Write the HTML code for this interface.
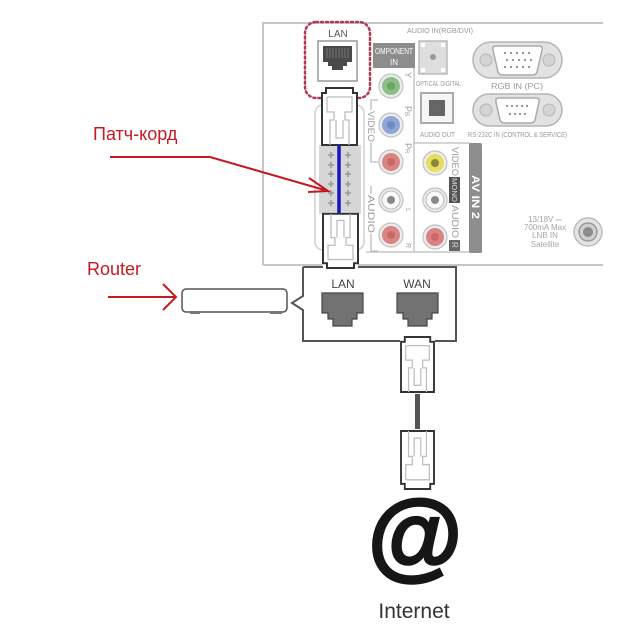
<!DOCTYPE html>
<html><head><meta charset="utf-8"><style>
html,body{margin:0;padding:0;background:#fff;}
svg{display:block;}
text{font-family:"Liberation Sans",Arial,sans-serif;}
</style></head><body>
<svg width="629" height="629" viewBox="0 0 629 629" xmlns="http://www.w3.org/2000/svg">
<defs>
  <g id="plug">
    <path d="M4,0 H31 V5 H35 V57 H0 V5 H4 Z" fill="#fff" stroke="#333" stroke-width="2"/>
    <path d="M5,9 H30 V24 H23 V32 H27 V57 M5,9 V24 H12 V32 H8 V57 M14,32 V50 H21 V32" fill="none" stroke="#bdbdbd" stroke-width="1.3"/>
  </g>
  <g id="cross">
    <path d="M-3,0 H3 M0,-3 V3" stroke="#9a9a9a" stroke-width="1.6"/>
  </g>
</defs>
<rect width="629" height="629" fill="#fff"/>

<!-- TV panel outline -->
<path d="M263,265 V23 H603" fill="none" stroke="#c6c6c6" stroke-width="2"/>
<path d="M263,265 H322 M358,265 H603" fill="none" stroke="#c6c6c6" stroke-width="2"/>

<!-- Component column / AV IN 2 box lines -->
<path d="M414,68 V252 M366,252 H482 M414,143 H470" fill="none" stroke="#c6c6c6" stroke-width="1.5"/>
<!-- brackets -->
<path d="M378,100 H371 V110 M371,143 V162 H378 M371,186 V194 M371,234 V251 H378" fill="none" stroke="#bdbdbd" stroke-width="1.3"/>
<text transform="translate(368,111) rotate(90)" font-size="9" fill="#9a9a9a" textLength="31" lengthAdjust="spacingAndGlyphs">VIDEO</text>
<text transform="translate(368,195) rotate(90)" font-size="9" fill="#9a9a9a" textLength="38" lengthAdjust="spacingAndGlyphs">AUDIO</text>

<!-- Component IN tab -->
<rect x="373" y="43" width="42" height="25" fill="#8d8d8d"/>
<text x="394" y="54" font-size="8" fill="#fff" text-anchor="middle" textLength="38" lengthAdjust="spacingAndGlyphs">OMPONENT</text>
<text x="394" y="65" font-size="8" fill="#fff" text-anchor="middle">IN</text>

<!-- component jacks -->
<g stroke="#c2c2c2" stroke-width="1.2">
  <circle cx="391" cy="86" r="12" fill="#ececec"/>
  <circle cx="391" cy="125" r="12" fill="#ececec"/>
  <circle cx="391" cy="162" r="12" fill="#ececec"/>
  <circle cx="391" cy="200" r="12" fill="#ececec"/>
  <circle cx="391" cy="235" r="12" fill="#ececec"/>
</g>
<circle cx="391" cy="86" r="9" fill="#8cbf88"/><circle cx="391" cy="86" r="4" fill="#6da569"/>
<circle cx="391" cy="125" r="9" fill="#8ea5d8"/><circle cx="391" cy="125" r="4" fill="#7189c0"/>
<circle cx="391" cy="162" r="9" fill="#d98480"/><circle cx="391" cy="162" r="4" fill="#c56a66"/>
<circle cx="391" cy="200" r="9" fill="#fafafa" stroke="#bbb"/><circle cx="391" cy="200" r="4" fill="#8a8a8a"/>
<circle cx="391" cy="235" r="9" fill="#d98480"/><circle cx="391" cy="235" r="4" fill="#c56a66"/>
<g font-size="9" fill="#999">
  <text transform="translate(405,72) rotate(90)">Y</text>
  <text transform="translate(405,106) rotate(90)">P<tspan font-size="6">B</tspan></text>
  <text transform="translate(405,143) rotate(90)">P<tspan font-size="6">R</tspan></text>
  <text transform="translate(406,208) rotate(90)" font-size="7">L</text>
  <text transform="translate(406,243) rotate(90)" font-size="7">R</text>
</g>

<!-- AV IN 2 jacks -->
<g stroke="#c2c2c2" stroke-width="1.2">
  <circle cx="435" cy="163" r="12" fill="#ececec"/>
  <circle cx="435" cy="200" r="12" fill="#ececec"/>
  <circle cx="435" cy="237" r="12" fill="#ececec"/>
</g>
<circle cx="435" cy="163" r="9" fill="#e6df5e"/><circle cx="435" cy="163" r="4" fill="#8a8340"/>
<circle cx="435" cy="200" r="9" fill="#fafafa" stroke="#bbb"/><circle cx="435" cy="200" r="4" fill="#8a8a8a"/>
<circle cx="435" cy="237" r="9" fill="#d98480"/><circle cx="435" cy="237" r="4" fill="#c56a66"/>
<text transform="translate(452,147) rotate(90)" font-size="9" fill="#999" textLength="29" lengthAdjust="spacingAndGlyphs">VIDEO</text>
<rect x="449" y="177" width="11" height="26" fill="#555"/>
<text transform="translate(452,178) rotate(90)" font-size="7" fill="#ddd" textLength="24" lengthAdjust="spacingAndGlyphs">MONO</text>
<text transform="translate(452,205) rotate(90)" font-size="9" fill="#999" textLength="33" lengthAdjust="spacingAndGlyphs">AUDIO</text>
<rect x="449" y="240" width="11" height="11" fill="#666"/>
<text transform="translate(452,242) rotate(90)" font-size="8" fill="#ddd">R</text>

<!-- AV IN 2 tab -->
<rect x="469" y="143" width="13" height="110" rx="2" fill="#8d8d8d"/>
<text transform="translate(472,175) rotate(90)" font-size="11" font-weight="bold" fill="#fff" textLength="44" lengthAdjust="spacingAndGlyphs">AV IN 2</text>

<!-- Optical digital -->
<text x="407" y="33" font-size="7" fill="#9a9a9a" textLength="66" lengthAdjust="spacingAndGlyphs">AUDIO IN(RGB/DVI)</text>
<rect x="419" y="41" width="28" height="33" fill="#dedede" stroke="#bbb" stroke-width="1.5"/>
<rect x="421" y="43" width="4" height="4" fill="#fff"/><rect x="441" y="43" width="4" height="4" fill="#fff"/>
<rect x="421" y="68" width="4" height="4" fill="#fff"/><rect x="441" y="68" width="4" height="4" fill="#fff"/>
<circle cx="433" cy="57" r="3" fill="#9a9a9a"/>
<text x="416" y="86" font-size="7" fill="#9a9a9a" textLength="45" lengthAdjust="spacingAndGlyphs">OPTICAL DIGITAL</text>

<!-- Audio out -->
<rect x="421" y="93" width="32" height="30" fill="#f5f5f5" stroke="#aaa" stroke-width="2"/>
<rect x="429" y="100" width="16" height="16" fill="#666"/>
<text x="420" y="137" font-size="7" fill="#9a9a9a" textLength="35" lengthAdjust="spacingAndGlyphs">AUDIO OUT</text>

<!-- RGB IN (PC) VGA -->
<rect x="473" y="42" width="89" height="36" rx="18" fill="#e2e2e2" stroke="#b5b5b5" stroke-width="1.5"/>
<circle cx="486" cy="60" r="6" fill="#d4d4d4" stroke="#b5b5b5"/>
<circle cx="549" cy="60" r="6" fill="#d4d4d4" stroke="#b5b5b5"/>
<path d="M496,46 H539 Q543,46 542,50 L537,72 Q536,75 532,75 H503 Q499,75 498,72 L493,50 Q492,46 496,46 Z" fill="#fff" stroke="#aaa" stroke-width="1.5"/>
<g fill="#777">
  <circle cx="505" cy="53" r="1"/><circle cx="511" cy="53" r="1"/><circle cx="517" cy="53" r="1"/><circle cx="523" cy="53" r="1"/><circle cx="529" cy="53" r="1"/>
  <circle cx="507" cy="60" r="1"/><circle cx="513" cy="60" r="1"/><circle cx="519" cy="60" r="1"/><circle cx="525" cy="60" r="1"/><circle cx="531" cy="60" r="1"/>
  <circle cx="505" cy="67" r="1"/><circle cx="511" cy="67" r="1"/><circle cx="517" cy="67" r="1"/><circle cx="523" cy="67" r="1"/><circle cx="529" cy="67" r="1"/>
</g>
<text x="517" y="89" font-size="8" fill="#9a9a9a" text-anchor="middle" textLength="52" lengthAdjust="spacingAndGlyphs">RGB IN (PC)</text>

<!-- RS-232C -->
<rect x="473" y="94" width="89" height="32" rx="16" fill="#e2e2e2" stroke="#b5b5b5" stroke-width="1.5"/>
<circle cx="486" cy="110" r="6" fill="#d4d4d4" stroke="#b5b5b5"/>
<circle cx="549" cy="110" r="6" fill="#d4d4d4" stroke="#b5b5b5"/>
<path d="M499,98 H536 Q540,98 539,102 L535,120 Q534,123 530,123 H505 Q501,123 500,120 L496,102 Q495,98 499,98 Z" fill="#fff" stroke="#aaa" stroke-width="1.5"/>
<g fill="#777">
  <circle cx="507" cy="106" r="1"/><circle cx="512" cy="106" r="1"/><circle cx="517" cy="106" r="1"/><circle cx="522" cy="106" r="1"/><circle cx="527" cy="106" r="1"/>
  <circle cx="510" cy="114" r="1"/><circle cx="515" cy="114" r="1"/><circle cx="520" cy="114" r="1"/><circle cx="525" cy="114" r="1"/>
</g>
<text x="468" y="137" font-size="7" fill="#9a9a9a" textLength="99" lengthAdjust="spacingAndGlyphs">RS-232C IN (CONTROL &amp; SERVICE)</text>

<!-- Satellite -->
<g font-size="8" fill="#a5a5a5" text-anchor="middle">
  <text x="545" y="222">13/18V ⎓</text>
  <text x="545" y="230">700mA Max</text>
  <text x="545" y="238">LNB IN</text>
  <text x="545" y="247">Satellite</text>
</g>
<circle cx="588" cy="232" r="14" fill="#e4e4e4" stroke="#bbb" stroke-width="1.5"/>
<circle cx="588" cy="232" r="9" fill="#cfcfcf" stroke="#999" stroke-width="1.5"/>
<circle cx="588" cy="232" r="5" fill="#8a8a8a"/>

<!-- TV LAN port -->
<rect x="305" y="22" width="65" height="76" rx="11" fill="none" stroke="#b33a55" stroke-width="2.5" stroke-dasharray="2,3" stroke-linecap="round"/>
<text x="338" y="37" font-size="10" fill="#555" text-anchor="middle">LAN</text>
<rect x="318" y="41" width="39" height="40" fill="#fff" stroke="#999" stroke-width="1.5"/>
<path d="M323,46 H352 V62 H347 V66 H343 V70 H332 V66 H328 V62 H323 Z" fill="#4a4a4a"/>
<path d="M327,48 V58 M330,48 V58 M333,48 V58 M336,48 V58 M339,48 V58 M342,48 V58 M345,48 V58 M348,48 V58" stroke="#777" stroke-width="1"/>

<!-- cable strip area -->
<rect x="315" y="105" width="49" height="145" rx="8" fill="none" stroke="#cfcfcf" stroke-width="1.5"/>
<rect x="319" y="145" width="42" height="69" fill="#d6d6d6"/>
<g>
  <use href="#cross" x="331" y="155"/><use href="#cross" x="348" y="155"/>
  <use href="#cross" x="331" y="165"/><use href="#cross" x="348" y="165"/>
  <use href="#cross" x="331" y="174"/><use href="#cross" x="348" y="174"/>
  <use href="#cross" x="331" y="184"/><use href="#cross" x="348" y="184"/>
  <use href="#cross" x="331" y="193"/><use href="#cross" x="348" y="193"/>
  <use href="#cross" x="331" y="203"/><use href="#cross" x="348" y="203"/>
</g>

<!-- TV plugs -->
<use href="#plug" transform="translate(322,88)"/>
<line x1="339" y1="147" x2="339" y2="212" stroke="#1418c0" stroke-width="3.5" stroke-linecap="round"/>

<!-- Router box -->
<path d="M303,267 H323 M358,267 H456 V341 H435 M400,341 H303 V310 L292,303 L303,296 V267" fill="none" stroke="#555" stroke-width="2"/>
<use href="#plug" transform="translate(323,268) scale(1,-0.95)"/>
<text x="343" y="288" font-size="12" fill="#444" text-anchor="middle">LAN</text>
<text x="417" y="288" font-size="12" fill="#444" text-anchor="middle">WAN</text>
<path d="M322,293 H363 V313 H357 V319 H352 V326 H333 V319 H328 V313 H322 Z" fill="#727272" stroke="#444" stroke-width="1.2"/>
<path d="M397,293 H438 V313 H432 V319 H427 V326 H408 V319 H403 V313 H397 Z" fill="#727272" stroke="#444" stroke-width="1.2"/>

<!-- WAN cable -->
<use href="#plug" transform="translate(401,337) scale(0.943,0.965)"/>
<rect x="415" y="394" width="5" height="35" fill="#555"/>
<use href="#plug" transform="translate(401,489) scale(0.943,-1.0175)"/>

<!-- @ and Internet -->
<text x="415" y="568" font-size="97" font-weight="bold" fill="#161616" stroke="#161616" stroke-width="2.5" text-anchor="middle">@</text>
<text x="414" y="618" font-size="21" fill="#333" text-anchor="middle">Internet</text>

<!-- Router device -->
<rect x="182" y="289" width="105" height="23" rx="4" fill="#fff" stroke="#555" stroke-width="1.5"/>
<rect x="190" y="311" width="10" height="3" fill="#777"/>
<rect x="270" y="311" width="12" height="3" fill="#777"/>

<!-- Red annotations -->
<text x="93" y="140" font-size="18" fill="#c41a20">Патч-корд</text>
<path d="M110,157 H210 L328,191" fill="none" stroke="#c41a20" stroke-width="2"/>
<path d="M309,178 L328,191 L308,192" fill="none" stroke="#c41a20" stroke-width="2"/>
<text x="87" y="275" font-size="18" fill="#c41a20">Router</text>
<path d="M108,297 H176" fill="none" stroke="#c41a20" stroke-width="2"/>
<path d="M163,284 L176,297 L163,310" fill="none" stroke="#c41a20" stroke-width="2"/>
</svg>
</body></html>
